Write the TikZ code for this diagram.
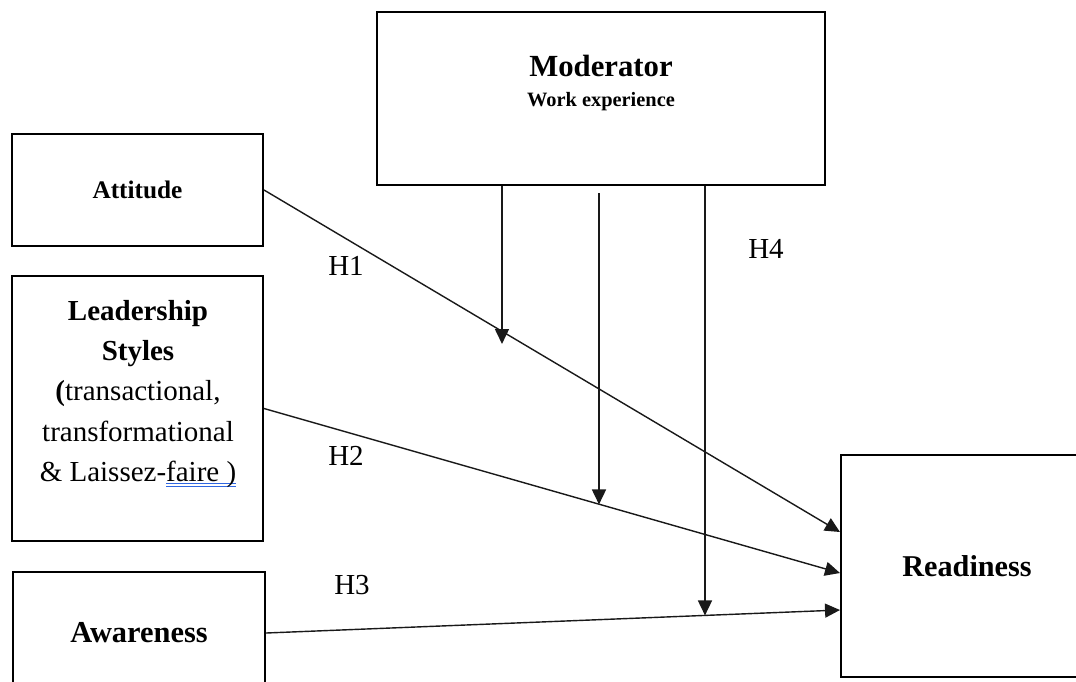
\documentclass[tikz,border=0pt]{standalone}
\usepackage{fontspec}
\setmainfont{Liberation Serif}
\usepackage{xcolor}
\usetikzlibrary{positioning, calc, arrows.meta}

\definecolor{spellblue}{HTML}{2F66E0}
\newcommand{\spellmark}[1]{\setbox0=\hbox{#1}%
  \rlap{\color{spellblue}\rule[-1.5pt]{\wd0}{0.55pt}}%
  \rlap{\color{spellblue}\rule[-2.9pt]{\wd0}{0.55pt}}#1}

\begin{document}
\begin{tikzpicture}[x=0.02cm, y=-0.02cm, >={Triangle[length=8.5pt,width=8pt]},
  construct/.style={rectangle, draw, line width=1.2pt, inner sep=0pt, align=center},
  path/.style={->, line width=0.8pt, draw=black!90},
  hyp/.style={font=\fontsize{16.5}{20}\selectfont}]
  \useasboundingbox (0,0) rectangle (1076,681);
  \clip (0,0) rectangle (1076,681);
  % Constructs
  \node[construct, minimum width=8.96cm, minimum height=3.46cm] (mod) at (601,98.5) {};
  \node[align=center, font=\fontsize{11.6}{17.6}\selectfont\bfseries] (modtxt) at (601,83)
    {{\fontsize{17.5}{21}\selectfont Moderator}\\Work experience};
  \node[construct, minimum width=5.02cm, minimum height=2.24cm,
    font=\fontsize{14.4}{17}\selectfont\bfseries] (att) at (137.5,190) {Attitude};
  \node[construct, minimum width=5.02cm, minimum height=5.3cm] (lead) at (137.5,408.5) {};
  \node[align=center, font=\fontsize{16.5}{23}\selectfont] (leadtxt) at (138,394)
    {\textbf{Leadership}\\\textbf{Styles}\\\textbf{(}transactional,\\transformational\\\& Laissez-\spellmark{faire )}};
  \node[construct, minimum width=5.04cm, minimum height=2.44cm,
    font=\fontsize{17.3}{20}\selectfont\bfseries] (awr) at (139,633) {Awareness};
  \node[construct, minimum width=5.04cm, minimum height=4.44cm,
    font=\fontsize{17.2}{20}\selectfont\bfseries] (rdy) at (967,566) {Readiness};
  % Hypotheses
  \node[hyp] (h1) at (346,266) {H1};
  \node[hyp] (h2) at (346,456) {H2};
  \node[hyp] (h3) at (352,585) {H3};
  \node[hyp] (h4) at (766,249) {H4};
  % Direct paths
  \coordinate (in1) at ($(rdy.west)+(0,-34)$);
  \coordinate (in2) at ($(rdy.west)+(0,7)$);
  \coordinate (in3) at ($(rdy.west)+(0,44)$);
  \draw[path] (att.east) -- (in1);
  \draw[path] (lead.east) -- (in2);
  \draw[path] (awr.east) -- (in3);
  % Moderating paths
  \coordinate (m1) at ($(mod.south west)+(126,0)$);
  \coordinate (m2) at ($(mod.south west)+(223,7)$);
  \coordinate (m3) at ($(mod.south west)+(329,0)$);
  \coordinate (t1) at ($(att.east)!0.415!(in1)$);
  \coordinate (t2) at ($(lead.east)!0.583!(in2)$);
  \coordinate (t3) at ($(awr.east)!0.766!(in3)$);
  \draw[path] (m1) -- ($(m1 |- t1)+(0,12)$);
  \draw[path] (m2) -- (m2 |- t2);
  \draw[path] (m3) -- (m3 |- t3);
\end{tikzpicture}
\end{document}
